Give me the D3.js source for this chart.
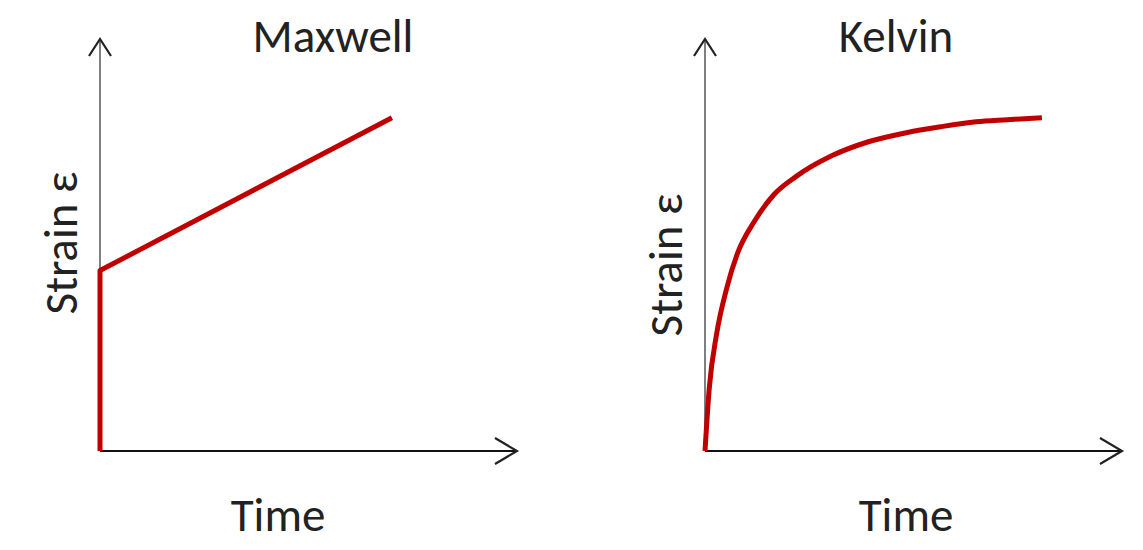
<!DOCTYPE html>
<html>
<head>
<meta charset="utf-8">
<script src="https://cdn.jsdelivr.net/npm/d3@7"></script>
<style>
  html, body { margin: 0; padding: 0; background: #fff; }
  svg { display: block; }
  text { font-family: Carlito, Lato, "Open Sans", sans-serif; fill: #222; }
</style>
</head>
<body>
<svg id="chart" width="1143" height="550"></svg>
<script>
// ---- data (arbitrary units: time 0..10, strain 0..10) ----
const panelTitles = ["Maxwell", "Kelvin"];
const xAxisLabel = "Time";
const yAxisLabel = "Strain ε";

const maxwellTime   = [0, 0, 7.0];
const maxwellStrain = [0, 4.38, 8.09];

const kelvinTime   = [0, 0.1, 0.28, 0.52, 0.78, 1.2, 1.65, 2.18, 3.05, 3.9, 4.8, 5.65, 6.5, 7.25, 8.08];
const kelvinStrain = [0, 1.5, 2.85, 3.95, 4.8, 5.6, 6.22, 6.66, 7.17, 7.5, 7.72, 7.87, 7.99, 8.04, 8.09];

// ---- layout ----
const panels = [
  { title: panelTitles[0], t: maxwellTime, s: maxwellStrain, x0: 100, titleX: 333, timeX: 278, ylabX: 77, ylabY: 243, curve: d3.curveLinear },
  { title: panelTitles[1], t: kelvinTime,  s: kelvinStrain,  x0: 705, titleX: 896, timeX: 906, ylabX: 682, ylabY: 265, curve: d3.curveMonotoneX }
];
const axisLen = 417, yBottom = 451, yTop = 39;
const fontSize = "47px";

const svg = d3.select("#chart");

panels.forEach(p => {
  const x = d3.scaleLinear().domain([0, 10]).range([p.x0, p.x0 + axisLen]);
  const y = d3.scaleLinear().domain([0, 10]).range([yBottom, yTop]);
  const g = svg.append("g");

  // y axis with open arrowhead
  g.append("line")
    .attr("x1", x(0)).attr("y1", y(0)).attr("x2", x(0)).attr("y2", y(10))
    .attr("stroke", "#555").attr("stroke-width", 1.5);
  g.append("path")
    .attr("d", `M${x(0) - 11},${y(10) + 17} L${x(0)},${y(10)} L${x(0) + 11},${y(10) + 17}`)
    .attr("fill", "none").attr("stroke", "#222").attr("stroke-width", 2.2);

  // x axis with open arrowhead
  g.append("line")
    .attr("x1", x(0)).attr("y1", y(0)).attr("x2", x(10)).attr("y2", y(0))
    .attr("stroke", "#111").attr("stroke-width", 2.2);
  g.append("path")
    .attr("d", `M${x(10) - 22},${y(0) - 13} L${x(10)},${y(0)} L${x(10) - 22},${y(0) + 13}`)
    .attr("fill", "none").attr("stroke", "#222").attr("stroke-width", 2.2);

  // strain curve
  const pts = p.t.map((t, i) => [t, p.s[i]]);
  g.append("path")
    .datum(pts)
    .attr("d", d3.line().x(d => x(d[0])).y(d => y(d[1])).curve(p.curve))
    .attr("fill", "none")
    .attr("stroke", "#c00000")
    .attr("stroke-width", 5)
    .attr("stroke-linejoin", "round");

  // labels
  g.append("text")
    .attr("x", p.titleX).attr("y", 52)
    .attr("text-anchor", "middle")
    .style("font-size", fontSize)
    .text(p.title);

  g.append("text")
    .attr("x", p.timeX).attr("y", 531)
    .attr("text-anchor", "middle")
    .style("font-size", fontSize)
    .text(xAxisLabel);

  g.append("text")
    .attr("transform", `translate(${p.ylabX},${p.ylabY}) rotate(-90)`)
    .attr("text-anchor", "middle")
    .style("font-size", fontSize)
    .text(yAxisLabel);
});
</script>
</body>
</html>
